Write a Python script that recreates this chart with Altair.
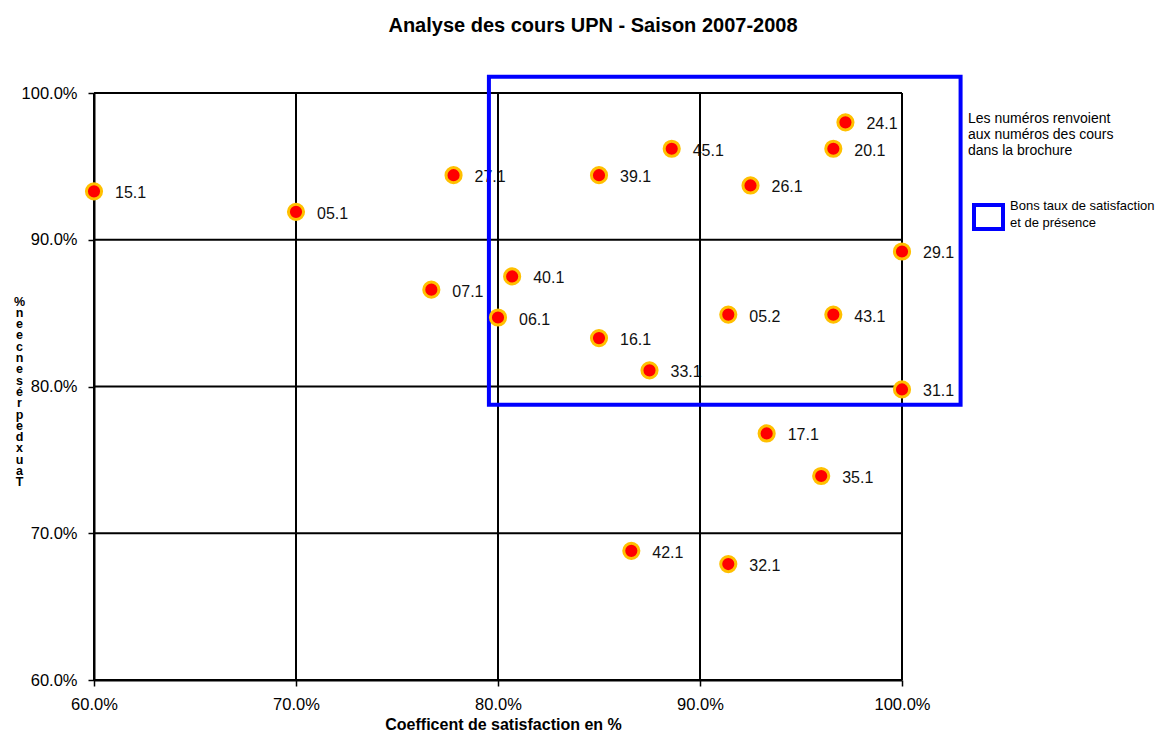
import altair as alt
import pandas as pd

# ---- data ----
codes = ["15.1", "05.1", "27.1", "07.1", "40.1", "06.1", "39.1", "45.1", "16.1", "33.1",
         "26.1", "05.2", "24.1", "20.1", "43.1", "29.1", "31.1", "17.1", "35.1", "42.1", "32.1"]
satisfaction = [60.0, 70.0, 77.8, 76.7, 80.7, 80.0, 85.0, 88.6, 85.0, 87.5,
                92.5, 91.4, 97.2, 96.6, 96.6, 100.0, 100.0, 93.3, 96.0, 86.6, 91.4]
presence = [93.3, 91.9, 94.4, 86.6, 87.5, 84.7, 94.4, 96.2, 83.3, 81.1,
            93.7, 84.9, 98.0, 96.2, 84.9, 89.2, 79.8, 76.8, 73.9, 68.8, 67.9]

# "Bons taux" zone (blue box) in data units
box_satisfaction = [79.55, 102.9]
box_presence = [78.75, 101.1]

tick_values = [60, 70, 80, 90, 100]
note_lines = ["Les numéros renvoient", "aux numéros des cours", "dans la brochure"]
box_legend_lines = ["Bons taux de satisfaction", "et de présence"]
y_title_chars = list("% ne ecnesérp ed xuaT".replace(" ", ""))

FONT = "Liberation Sans"

df = pd.DataFrame({"code": codes, "satisfaction": satisfaction, "presence": presence})
box_df = pd.DataFrame({"x1": [box_satisfaction[0]], "x2": [box_satisfaction[1]],
                       "y1": [box_presence[0]], "y2": [box_presence[1]]})
ticks_df = pd.DataFrame({"v": tick_values})
one = pd.DataFrame({"a": [0]})

xscale = alt.Scale(domain=[60, 100], nice=False, zero=False)
yscale = alt.Scale(domain=[60, 100], nice=False, zero=False)

xaxis = alt.Axis(values=tick_values, labelExpr="format(datum.value, '.1f') + '%'",
                 title="Coefficent de satisfaction en %", titleFont=FONT, titleFontSize=16,
                 titleFontWeight="bold", titleColor="black",
                 titleX=409, titleY=49, titleBaseline="alphabetic", titleAlign="center",
                 labelFont=FONT, labelFontSize=16.5, labelColor="black", labelFlush=False,
                 labelPadding=10, tickSize=6, tickColor="black", tickWidth=1.5,
                 domainColor="black", domainWidth=2, grid=False)
yaxis = alt.Axis(values=tick_values, labelExpr="format(datum.value, '.1f') + '%'",
                 title=y_title_chars, titleAngle=0, titleX=-75, titleY=202,
                 titleAlign="center", titleBaseline="top", titleLineHeight=11.3,
                 titleFont=FONT, titleFontSize=12.5, titleFontWeight="bold", titleColor="black",
                 labelFont=FONT, labelFontSize=16.5, labelColor="black", labelPadding=11,
                 labelFlush=False, tickSize=6, tickColor="black", tickWidth=1.5,
                 domainColor="black", domainWidth=2, grid=False)

X = lambda f: alt.X(f, scale=xscale, axis=xaxis)
Y = lambda f: alt.Y(f, scale=yscale, axis=yaxis)

labels = alt.Chart(df).mark_text(
    align="left", baseline="middle", dx=21, dy=2, font=FONT, fontSize=16, color="#111111"
).encode(x=X("satisfaction:Q"), y=Y("presence:Q"), text="code:N")

vgrid = alt.Chart(ticks_df).mark_rule(color="black", strokeWidth=2).encode(x=X("v:Q"))
hgrid = alt.Chart(ticks_df).mark_rule(color="black", strokeWidth=2).encode(y=Y("v:Q"))

box = alt.Chart(box_df).mark_rect(
    filled=False, stroke="#0000FF", strokeWidth=4, clip=False
).encode(x=X("x1:Q"), x2="x2:Q", y=Y("y1:Q"), y2="y2:Q")

points = alt.Chart(df).mark_circle(
    color="#FF0000", stroke="#FFC000", strokeWidth=3, size=230, opacity=1
).encode(x=X("satisfaction:Q"), y=Y("presence:Q"))

note = alt.Chart(one).mark_text(
    text=note_lines, align="left", baseline="top", lineHeight=16,
    font=FONT, fontSize=14, color="black"
).encode(x=alt.value(874), y=alt.value(19))

legend_box = alt.Chart(one).mark_rect(
    filled=False, stroke="#0000FF", strokeWidth=4
).encode(x=alt.value(880), x2=alt.value(909), y=alt.value(112), y2=alt.value(136))

legend_text = alt.Chart(one).mark_text(
    text=box_legend_lines, align="left", baseline="top", lineHeight=17,
    font=FONT, fontSize=13, color="black"
).encode(x=alt.value(916), y=alt.value(107))

chart = alt.layer(labels, vgrid, hgrid, box, points, note, legend_box, legend_text).properties(
    width=808,
    height=587,
    autosize=alt.AutoSizeParams(type="none"),
    padding={"left": 86, "top": 85, "right": 261, "bottom": 52},
    title=alt.Title("Analyse des cours UPN - Saison 2007-2008", font=FONT, fontSize=20,
                    fontWeight="bold", color="black", anchor="middle", dx=95, offset=39),
).configure_view(stroke=None)

chart.save("out.html", embed_options={"renderer": "svg", "actions": False})
